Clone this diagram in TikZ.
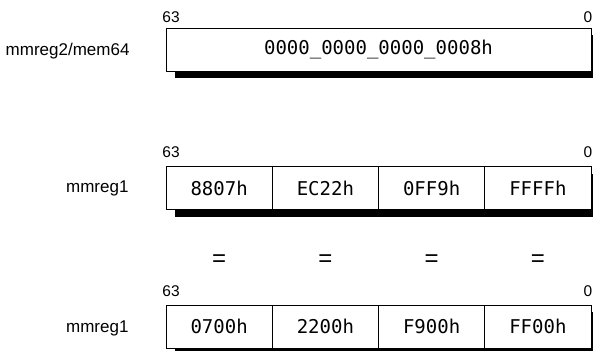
\documentclass[tikz,border=0pt]{standalone}
\usepackage{fontspec}
\setmainfont{Liberation Sans}
\setmonofont{DejaVu Sans Mono}
\usetikzlibrary{shadows,positioning}

\begin{document}
\begin{tikzpicture}[x=1pt,y=-1pt,
  regbox/.style={draw,line width=0.8pt,fill=white,minimum height=43pt,inner sep=0pt,
    font=\ttfamily\fontsize{19}{19}\selectfont,
    drop shadow={shadow xshift=9pt,shadow yshift=-7pt,fill=black,opacity=1}},
  reglabel/.style={anchor=east,font=\fontsize{17}{17}\selectfont},
  bitnum/.style={font=\fontsize{15.5}{15.5}\selectfont,inner sep=0pt},
  eqsign/.style={font=\fontsize{24}{24}\selectfont}]
\useasboundingbox (0,0) rectangle (593,350);
\node[regbox,minimum width=425pt] (src) at (378.5,49.5) {0000\_0000\_0000\_0008h};
\node[reglabel] (lsrc) at (133,51) {mmreg2/mem64};
\node[bitnum] (hisrc) at (171,17) {63};
\node[bitnum,anchor=east] (losrc) at (592.5,17) {0};
\foreach \v [count=\i] in {8807h,EC22h,0FF9h,FFFFh}
  \node[regbox,minimum width=106.25pt] (a\i) at ({166+106.25*(\i-0.5)},188) {\v};
\node[reglabel] (la) at (132,188) {mmreg1};
\node[bitnum] (hia) at (171,152) {63};
\node[bitnum,anchor=east] (loa) at (592.5,152) {0};
\foreach \i in {1,...,4}
  \node[eqsign] (eq\i) at ({166+106.25*(\i-0.5)},261) {=};
\foreach \v [count=\i] in {0700h,2200h,F900h,FF00h}
  \node[regbox,minimum width=106.25pt] (b\i) at ({166+106.25*(\i-0.5)},326.5) {\v};
\node[reglabel] (lb) at (132,328) {mmreg1};
\node[bitnum] (hib) at (171,291) {63};
\node[bitnum,anchor=east] (lob) at (592.5,291) {0};
\end{tikzpicture}
\end{document}
